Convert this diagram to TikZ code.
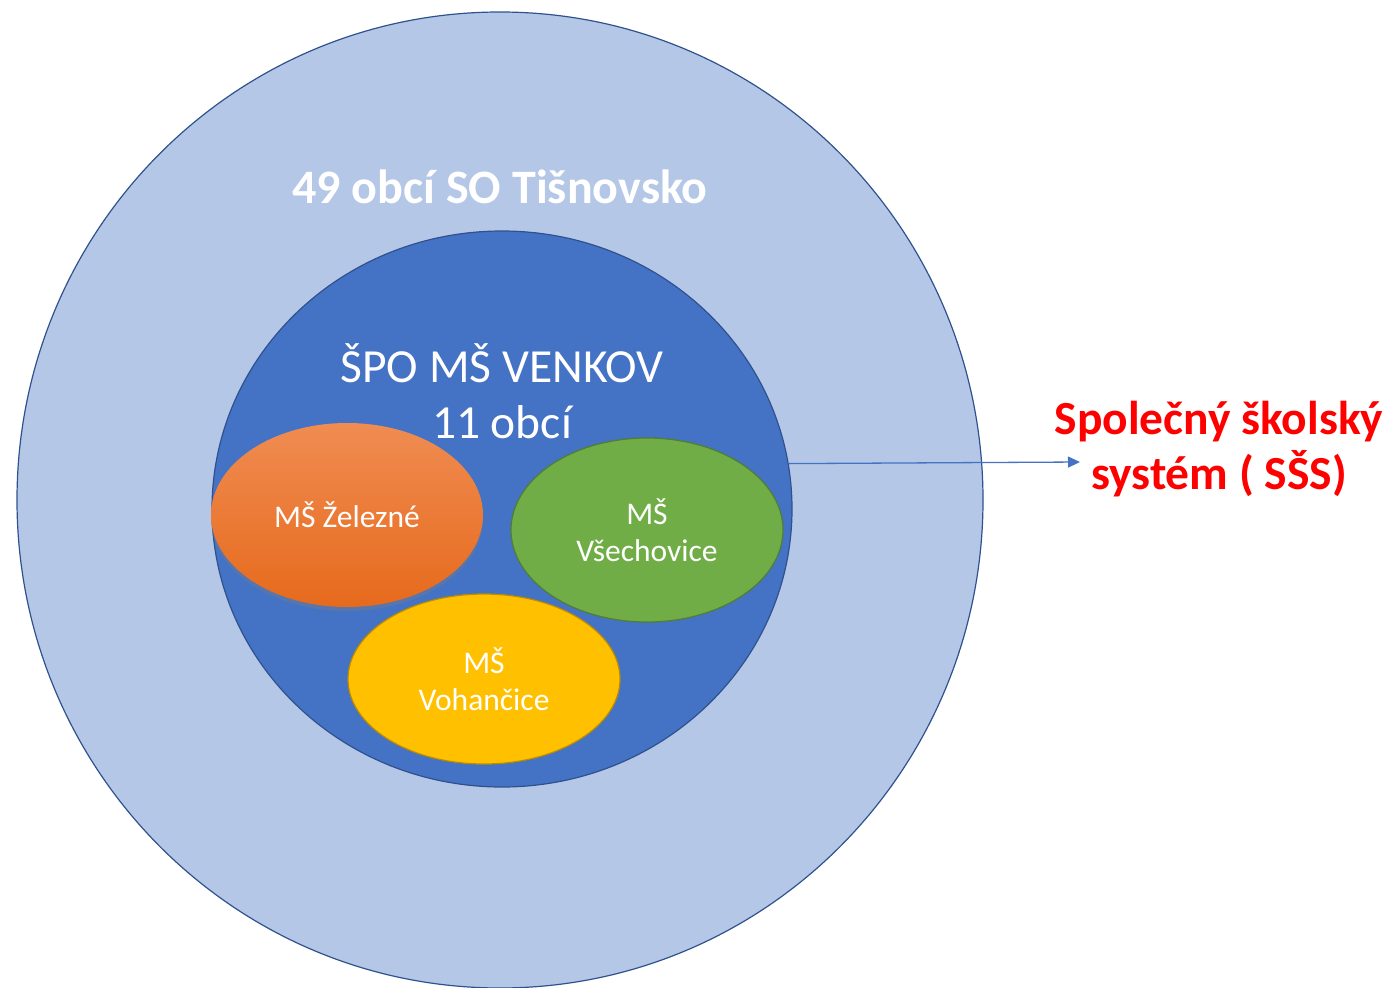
\documentclass[tikz,border=0pt]{standalone}
\usepackage{fontspec}
\setmainfont{Carlito}
\usetikzlibrary{shapes.geometric,shadows,arrows.meta}

\definecolor{soblue}{HTML}{B4C7E7}
\definecolor{spoblue}{HTML}{4472C4}
\definecolor{edgeblue}{HTML}{2F528F}
\definecolor{msgreen}{HTML}{70AD47}
\definecolor{msgreenedge}{HTML}{507E32}
\definecolor{msyellow}{HTML}{FFC000}
\definecolor{msyellowedge}{HTML}{BC8C00}
\definecolor{msorangetop}{HTML}{F08C52}
\definecolor{msorangebot}{HTML}{E66A1C}
\definecolor{sssred}{HTML}{FF0000}

\begin{document}
\begin{tikzpicture}[x=1pt, y=-1pt,
      every node/.style = {align=center, text=white},
      region/.style = {ellipse, draw=edgeblue, line width=1.2pt, inner sep=0pt},
      school/.style = {ellipse, line width=1.2pt, inner sep=0pt,
                       minimum width=272, minimum height=184,
                       font=\fontsize{31.5}{37}\selectfont},
      bigtext/.style = {font=\fontsize{47.5}{56}\selectfont},
      link/.style = {draw=spoblue, line width=1.3pt, -{Triangle[length=12pt, width=11pt]}}
    ]
    \useasboundingbox (0,0) rectangle (1395,988);

    \node (so)  at (500,500) [region, fill=soblue, minimum width=966, minimum height=976] {};
    \node (spo) at (502,509) [region, fill=spoblue, minimum width=580, minimum height=556] {};

    \node (sotitle)  at (500,203) [anchor=base, font=\fontsize{48}{56}\selectfont\bfseries] {49 obcí SO Tišnovsko};
    \node (spotitle) at (502,391) [bigtext] {ŠPO MŠ VENKOV\\11 obcí};

    \node (zelezne)     at (347,515) [school, draw=none, top color=msorangetop, bottom color=msorangebot,
                                      drop shadow={shadow xshift=0pt, shadow yshift=-4pt, opacity=0.35}] {MŠ Železné};
    \node (vsechovice)  at (647,530) [school, fill=msgreen, draw=msgreenedge] {MŠ\\Všechovice};
    \node (vohancice)   at (484,679) [school, fill=msyellow, draw=msyellowedge, minimum height=170] {MŠ\\Vohančice};

    \node (sss) at (1219,449) [text=sssred, font=\fontsize{47.5}{55}\selectfont\bfseries] {Společný školský\\systém ( SŠS)};
    \coordinate (sssin) at (1080,462);

    \draw[link] (spo.9.4) to (sssin);
  \end{tikzpicture}
\end{document}
